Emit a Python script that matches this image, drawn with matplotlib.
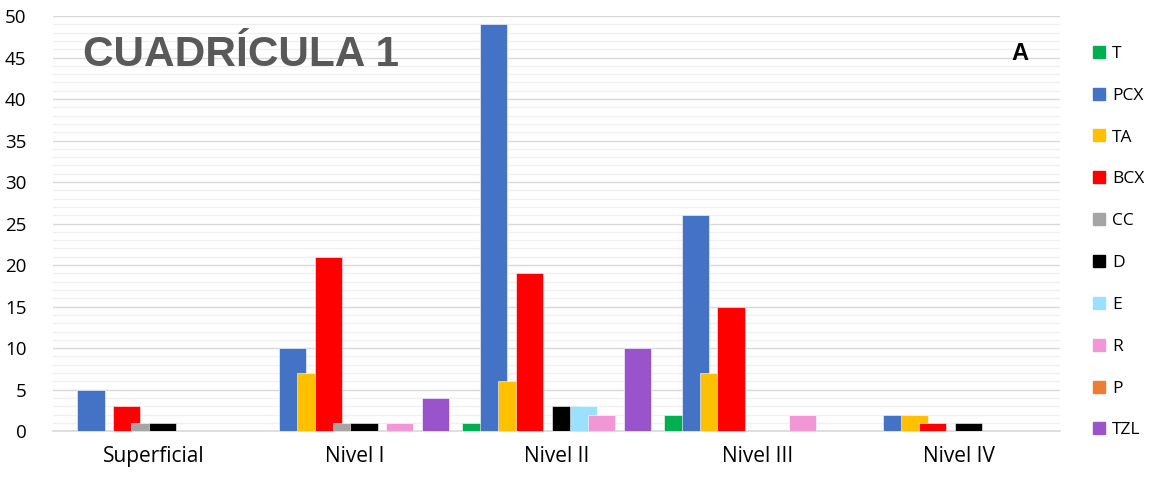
import matplotlib
matplotlib.use("Agg")
import matplotlib.pyplot as plt
from matplotlib.lines import Line2D
from matplotlib.ticker import MultipleLocator

categories = ["Superficial", "Nivel I", "Nivel II", "Nivel III", "Nivel IV"]
series_names = ["T", "PCX", "TA", "BCX", "CC", "D", "E", "R", "P", "TZL"]
series_colors = ["#00B050", "#4472C4", "#FFC000", "#FF0000", "#A5A5A5",
                 "#000000", "#99E1FF", "#F197D6", "#ED7D31", "#9954CC"]

T   = [0, 0, 1, 2, 0]
PCX = [5, 10, 49, 26, 2]
TA  = [0, 7, 6, 7, 2]
BCX = [3, 21, 19, 15, 1]
CC  = [1, 1, 0, 0, 0]
D   = [1, 1, 3, 0, 1]
E   = [0, 0, 3, 0, 0]
R   = [0, 1, 2, 2, 0]
P   = [0, 0, 0, 0, 0]
TZL = [0, 4, 10, 0, 0]
values = [T, PCX, TA, BCX, CC, D, E, R, P, TZL]

label_font = ["Open Sans", "DejaVu Sans"]

fig = plt.figure(figsize=(11.51, 4.78), dpi=100)
ax = fig.add_axes([0.046, 0.098, 0.875, 0.8685])

bar_w = 0.135
step = 0.089
n = len(series_names)
for k, (vals, col) in enumerate(zip(values, series_colors)):
    xs = [i + (k - (n - 1) / 2) * step for i in range(len(categories))]
    ax.bar(xs, vals, width=bar_w, color=col, edgecolor="white",
           linewidth=0.4, zorder=3 + k)

ax.set_xlim(-0.5, len(categories) - 0.5)
ax.set_ylim(0, 50)
ax.yaxis.set_major_locator(MultipleLocator(5))
ax.yaxis.set_minor_locator(MultipleLocator(1))
ax.grid(axis="y", which="major", color="#D9D9D9", linewidth=1.0, zorder=0)
ax.grid(axis="y", which="minor", color="#F0F0F0", linewidth=1.0, zorder=0)
ax.set_axisbelow(True)
for side in ["top", "right", "left"]:
    ax.spines[side].set_visible(False)
ax.spines["bottom"].set_color("#D9D9D9")
ax.spines["bottom"].set_linewidth(1.2)

ax.set_xticks(range(len(categories)))
ax.set_xticklabels(categories)
ax.tick_params(axis="x", length=0, pad=11, labelsize=15, labelcolor="#000000")
ax.tick_params(axis="y", which="both", length=0, pad=19, labelsize=13.5,
               labelcolor="#000000")
for lab in ax.get_xticklabels() + ax.get_yticklabels():
    lab.set_family(label_font)

fig.text(0.072, 0.885, "CUADRÍCULA 1", fontsize=30.5, fontweight="bold",
         color="#595959", family="Liberation Sans", va="center", ha="left")
fig.text(0.886, 0.889, "A", fontsize=17, fontweight="bold", color="#000000",
         family="Liberation Sans", va="center", ha="center")

handles = [Line2D([], [], linestyle="none", marker="s", markersize=8,
                  markerfacecolor=c, markeredgecolor=c) for c in series_colors]
leg = fig.legend(handles, series_names, loc="upper left",
                 bbox_to_anchor=(0.943, 0.919), frameon=False,
                 prop={"family": label_font, "size": 12.5},
                 labelspacing=1.48, handlelength=0.8, handletextpad=0.35,
                 borderaxespad=0)

fig.savefig("out.png", dpi=100)
